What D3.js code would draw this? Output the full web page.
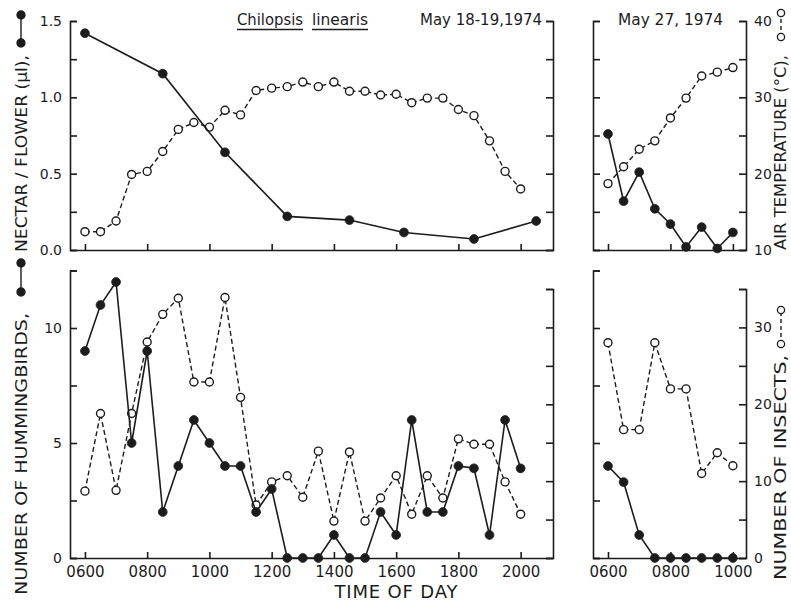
<!DOCTYPE html>
<meta charset="utf-8">
<script src="https://cdn.jsdelivr.net/npm/d3@7"></script>
<style>
  body { margin: 0; background: #fff; }
  text { font-family: "DejaVu Sans", sans-serif; fill: #1c1c1c; }
</style>
<body>
<script>
// times as hhmm
var timesL = [600, 630, 700, 730, 800, 830, 900, 930, 1000, 1030, 1100, 1130, 1200, 1230, 1300,
              1330, 1400, 1430, 1500, 1530, 1600, 1630, 1700, 1730, 1800, 1830, 1900, 1930, 2000]
var timesR = [600, 630, 700, 730, 800, 830, 900, 930, 1000]

// May 18-19
var nectarTimesL = [600, 830, 1030, 1230, 1430, 1615, 1830, 2030]
var nectarL = [1.42, 1.155, 0.64, 0.22, 0.196, 0.115, 0.072, 0.19]
var tempL = [12.4, 12.4, 13.8, 19.9, 20.3, 22.9, 25.8, 26.7, 26.1, 28.3, 27.7, 30.9, 31.2, 31.4, 32.0,
             31.4, 32.0, 30.8, 30.8, 30.3, 30.4, 29.3, 29.9, 29.9, 28.4, 27.6, 24.3, 20.3, 18.0]
var birdsL = [9, 11, 12, 5, 9, 2, 4, 6, 5, 4, 4, 2, 3, 0, 0,
              0, 1, 0, 0, 2, 1, 6, 2, 2, 4, 3.9, 1, 6, 3.9]
var insectsL = [8.7, 18.8, 8.8, 18.8, 28.1, 31.7, 33.8, 22.9, 22.9, 33.9, 20.9, 6.9, 9.9, 10.7, 7.9,
                13.9, 4.8, 13.8, 4.8, 7.8, 10.7, 5.7, 10.7, 7.8, 15.5, 14.8, 14.8, 9.9, 5.7]

// May 27
var nectarR = [0.76, 0.32, 0.51, 0.27, 0.17, 0.02, 0.15, 0.01, 0.115]
var tempR = [18.7, 20.9, 23.2, 24.3, 27.3, 29.9, 32.8, 33.3, 33.9]
var birdsR = [4, 3.3, 1, 0, 0, 0, 0, 0, 0]
var insectsR = [28, 16.7, 16.7, 28, 22, 22, 11, 13.7, 12]

var xTickHours = [6, 8, 10, 12, 14, 16, 18, 20]
var xTickHoursR = [6, 8, 10]

var ink = "#1c1c1c"
var svg = d3.select("body").append("svg").attr("width", 791).attr("height", 605)
svg.append("rect").attr("width", 791).attr("height", 605).attr("fill", "#fff")

function hrs(t) { return Math.floor(t / 100) + (t % 100) / 60 }
function hhmm(h) { return d3.format("02d")(h) + "00" }

var xL = d3.scaleLinear().domain([5.52, 21.04]).range([70, 553])
var xR = d3.scaleLinear().domain([5.52, 10.42]).range([593, 746])
var yNectar = d3.scaleLinear().domain([0, 1.5]).range([250, 21])
var yTemp = d3.scaleLinear().domain([10, 40]).range([250, 21])
var yBirds = d3.scaleLinear().domain([0, 12.5]).range([558, 270.5])
var yIns = d3.scaleLinear().domain([0, 35]).range([558, 289])

function styleAxis(g, size) {
  g.attr("font-family", "DejaVu Sans").attr("font-size", size)
  g.selectAll("path, line").attr("stroke", ink).attr("stroke-width", 1.6)
  g.selectAll("text").attr("fill", ink)
}

function panel(xs, xTicks, showX, yl, ltick, lfmt, yr, rtick, rfmt) {
  var x0 = xs.range()[0], x1 = xs.range()[1], yb = yl.range()[0]
  var gl = svg.append("g").attr("transform", "translate(" + x0 + ",0)")
    .call(d3.axisLeft(yl).tickValues(ltick).tickFormat(lfmt).tickSize(-7).tickSizeOuter(-7).tickPadding(8))
  styleAxis(gl, 14)
  var gr = svg.append("g").attr("transform", "translate(" + x1 + ",0)")
    .call(d3.axisRight(yr).tickValues(rtick).tickFormat(rfmt).tickSize(-7).tickSizeOuter(-7).tickPadding(8))
  styleAxis(gr, 14)
  var gb = svg.append("g").attr("transform", "translate(0," + yb + ")")
    .call(d3.axisBottom(xs).tickValues(xTicks).tickFormat(showX ? hhmm : () => "").tickSize(-6).tickSizeOuter(0).tickPadding(8))
  styleAxis(gb, 15)
}

var nectarTicks = d3.range(0, 1.51, 0.25)
var tempTicks = d3.range(10, 41, 5)
var birdTicks = d3.range(0, 12.6, 2.5)
var insTicks = d3.range(0, 36, 5)

panel(xL, xTickHours, false, yNectar, nectarTicks, d => (d * 2) % 1 === 0 ? d3.format(".1f")(d) : "", yTemp, tempTicks, () => "")
panel(xR, xTickHoursR, false, yNectar, nectarTicks, () => "", yTemp, tempTicks, d => d % 10 === 0 ? d : "")
panel(xL, xTickHours, true, yBirds, birdTicks, d => d % 5 === 0 ? d : "", yIns, insTicks, () => "")
panel(xR, xTickHoursR, true, yBirds, birdTicks, () => "", yIns, insTicks, d => d % 10 === 0 ? d : "")

function series(xs, ys, times, vals, filled) {
  var pts = times.map((t, i) => [xs(hrs(t)), ys(vals[i])])
  svg.append("path").attr("d", d3.line()(pts)).attr("fill", "none").attr("stroke", ink)
    .attr("stroke-width", filled ? 1.6 : 1.4).attr("stroke-dasharray", filled ? null : "5,3")
  svg.append("g").selectAll("circle").data(pts).enter().append("circle")
    .attr("cx", d => d[0]).attr("cy", d => d[1]).attr("r", filled ? 4.4 : 4)
    .attr("fill", filled ? ink : "#fff").attr("stroke", ink).attr("stroke-width", filled ? 0.8 : 1.4)
}

series(xL, yTemp, timesL, tempL, false)
series(xL, yNectar, nectarTimesL, nectarL, true)
series(xR, yTemp, timesR, tempR, false)
series(xR, yNectar, timesR, nectarR, true)
series(xL, yIns, timesL, insectsL, false)
series(xL, yBirds, timesL, birdsL, true)
series(xR, yIns, timesR, insectsR, false)
series(xR, yBirds, timesR, birdsR, true)

// titles
function word(txt, x, y, len, under) {
  svg.append("text").attr("x", x).attr("y", y).attr("font-size", 15).attr("textLength", len)
    .attr("lengthAdjust", "spacingAndGlyphs").text(txt)
  if (under) svg.append("line").attr("x1", x).attr("x2", x + len).attr("y1", y + 4.5).attr("y2", y + 4.5)
    .attr("stroke", ink).attr("stroke-width", 1.3)
}
word("Chilopsis", 237, 25, 66, true)
word("linearis", 312, 25, 56, true)
word("May 18-19,1974", 420, 25, 122, false)
word("May 27, 1974", 618, 25, 105, false)

// axis titles
svg.append("text").attr("x", 396).attr("y", 598).attr("text-anchor", "middle").attr("font-size", 18)
  .attr("textLength", 123).text("TIME OF DAY")

function vlabel(txt, bx, yStart, yEnd, size) {
  svg.append("text").attr("transform", "translate(" + bx + "," + yStart + ") rotate(-90)")
    .attr("font-size", size).attr("textLength", yStart - yEnd).attr("lengthAdjust", "spacingAndGlyphs").text(txt)
}
function vsym(cx, ya, yb, filled) {
  svg.append("line").attr("x1", cx).attr("x2", cx).attr("y1", ya).attr("y2", yb).attr("stroke", ink)
    .attr("stroke-width", 1.4).attr("stroke-dasharray", filled ? null : "4,3")
  ;[ya, yb].forEach(function (y) {
    svg.append("circle").attr("cx", cx).attr("cy", y).attr("r", filled ? 4 : 3.6)
      .attr("fill", filled ? ink : "#fff").attr("stroke", ink).attr("stroke-width", 1.3)
  })
}
vlabel("NUMBER OF HUMMINGBIRDS,", 27, 595, 313, 16)
vsym(21, 292, 263, true)
vlabel("NECTAR / FLOWER (\u00b5l),", 27, 252, 55, 16)
vsym(21, 43, 15, true)
vlabel("AIR TEMPERATURE (\u00b0C),", 786, 250, 55, 15)
vsym(781, 37, 13, false)
vlabel("NUMBER OF INSECTS,", 786, 580, 355, 15)
vsym(781, 344, 310, false)
</script>
</body>
